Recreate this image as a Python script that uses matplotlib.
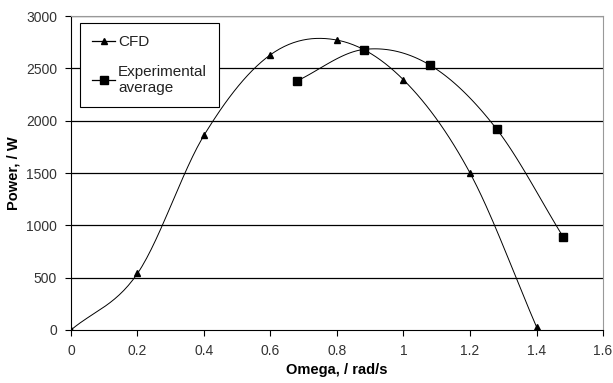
import numpy as np
import matplotlib.pyplot as plt

plt.rcParams['font.family'] = ['Liberation Sans', 'DejaVu Sans']

# CFD results
cfd_omega = [0.0, 0.2, 0.4, 0.6, 0.8, 1.0, 1.2, 1.4]
cfd_power = [0, 540, 1860, 2630, 2770, 2390, 1500, 30]

# experimental average
exp_omega = [0.68, 0.88, 1.08, 1.28, 1.48]
exp_power = [2380, 2680, 2530, 1920, 890]

xticks = [0, 0.2, 0.4, 0.6, 0.8, 1, 1.2, 1.4, 1.6]
xtick_labels = ['0', '0.2', '0.4', '0.6', '0.8', '1', '1.2', '1.4', '1.6']
yticks = [0, 500, 1000, 1500, 2000, 2500, 3000]


def smooth(x, y, n=30):
    # Catmull-Rom style smoothing, like the spreadsheet "smoothed line"
    x = np.asarray(x, float)
    y = np.asarray(y, float)
    px = np.concatenate([[2 * x[0] - x[1]], x, [2 * x[-1] - x[-2]]])
    py = np.concatenate([[2 * y[0] - y[1]], y, [2 * y[-1] - y[-2]]])
    xs, ys = [], []
    t = np.linspace(0, 1, n)
    for i in range(1, len(px) - 2):
        for p, out in ((px, xs), (py, ys)):
            p0, p1, p2, p3 = p[i - 1], p[i], p[i + 1], p[i + 2]
            out.extend(0.5 * ((2 * p1) + (-p0 + p2) * t
                              + (2 * p0 - 5 * p1 + 4 * p2 - p3) * t ** 2
                              + (-p0 + 3 * p1 - 3 * p2 + p3) * t ** 3))
    return xs, ys


fig = plt.figure(figsize=(6.13, 3.83), dpi=100)
ax = fig.add_axes([0.1158, 0.1384, 0.8679, 0.8198])

for yv in yticks[1:]:
    ax.axhline(yv, color='black', lw=0.9, zorder=1)

sx, sy = smooth(cfd_omega, cfd_power)
ax.plot(sx, sy, color='black', lw=0.7, zorder=2)
ax.plot(cfd_omega, cfd_power, ls='none', marker='^', ms=4.5, color='black', zorder=3)

sx, sy = smooth(exp_omega, exp_power)
ax.plot(sx, sy, color='black', lw=0.7, zorder=2)
ax.plot(exp_omega, exp_power, ls='none', marker='s', ms=5.5, color='black', zorder=3)

# legend proxies
ax.plot([], [], color='black', lw=0.9, marker='^', ms=4.5, label='CFD')
ax.plot([], [], color='black', lw=0.9, marker='s', ms=5.5, label='Experimental\naverage')

ax.set_xlim(0, 1.6)
ax.set_ylim(0, 3000)
ax.set_xticks(xticks)
ax.set_xticklabels(xtick_labels)
ax.set_yticks(yticks)
ax.tick_params(labelsize=10, colors='#333333', length=4, width=0.8, pad=6)
ax.tick_params(axis='both', color='black')

ax.spines['top'].set_color('#999999')
ax.spines['right'].set_color('#999999')
ax.spines['left'].set_color('black')
ax.spines['bottom'].set_color('black')

ax.set_xlabel('Omega, / rad/s', fontsize=10.5, fontweight='bold', labelpad=4)
ax.set_ylabel('Power, / W', fontsize=10.5, fontweight='bold', labelpad=4)

leg = ax.legend(loc='upper left', bbox_to_anchor=(80 / 613, 1 - 23 / 383),
                bbox_transform=fig.transFigure, fontsize=11, frameon=True,
                fancybox=False, edgecolor='black', framealpha=1,
                handlelength=1.5, handletextpad=0.2, labelspacing=1.0,
                borderpad=0.8, borderaxespad=0)
leg.get_frame().set_linewidth(0.8)
for t in leg.get_texts():
    t.set_color('#222222')

fig.savefig('out.png', dpi=100)
